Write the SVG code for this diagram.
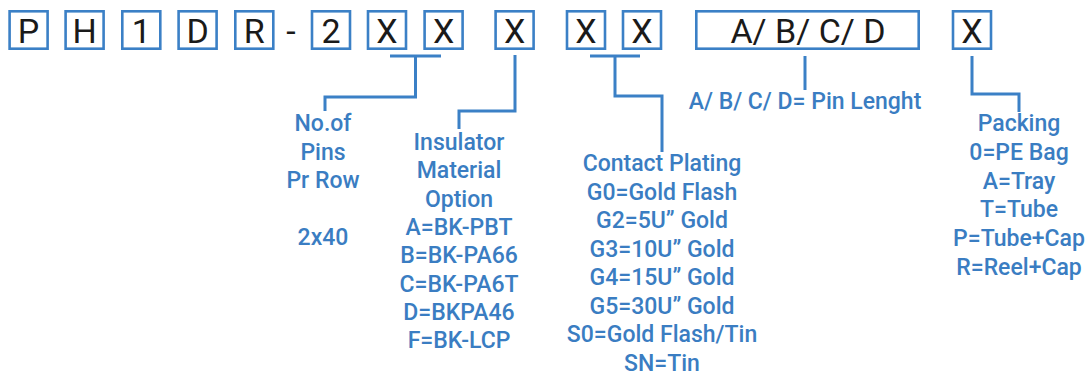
<svg xmlns="http://www.w3.org/2000/svg" width="1086" height="378" viewBox="0 0 1086 378">
<style>
.box{fill:#fff;stroke:#3b80c6;stroke-width:2.6}
.ch{font-family:Roboto,"Liberation Sans",sans-serif;font-size:34px;fill:#1a1a1a;text-anchor:middle}
.lbl{font-family:Roboto,"Liberation Sans",sans-serif;font-size:23px;font-weight:500;fill:#3a7dc2;text-anchor:middle}
.ln{fill:none;stroke:#3b80c6;stroke-width:3}
</style>
<rect width="1086" height="378" fill="#fff"/>
<g id="code">
<g id="b-P"><rect class="box" x="9.6" y="11.3" width="38" height="37.4"/><text class="ch" x="28.6" y="43.3">P</text></g>
<g id="b-H"><rect class="box" x="65.6" y="11.3" width="38" height="37.4"/><text class="ch" x="84.6" y="43.3">H</text></g>
<g id="b-1"><rect class="box" x="122.3" y="11.3" width="38" height="37.4"/><text class="ch" x="141.3" y="43.3">1</text></g>
<g id="b-D"><rect class="box" x="178.6" y="11.3" width="38" height="37.4"/><text class="ch" x="197.6" y="43.3">D</text></g>
<g id="b-R"><rect class="box" x="235.3" y="11.3" width="38" height="37.4"/><text class="ch" x="254.3" y="43.3">R</text></g>
<g id="dash"><text class="ch" x="291" y="43.3">-</text></g>
<g id="b-2"><rect class="box" x="312" y="11.3" width="38" height="37.4"/><text class="ch" x="331" y="43.3">2</text></g>
<g id="b-X1"><rect class="box" x="368" y="11.3" width="38" height="37.4"/><text class="ch" x="387" y="43.3">X</text></g>
<g id="b-X2"><rect class="box" x="424.6" y="11.3" width="38" height="37.4"/><text class="ch" x="443.6" y="43.3">X</text></g>
<g id="b-X3"><rect class="box" x="495.6" y="11.3" width="38" height="37.4"/><text class="ch" x="514.6" y="43.3">X</text></g>
<g id="b-X4"><rect class="box" x="567" y="11.3" width="38" height="37.4"/><text class="ch" x="586" y="43.3">X</text></g>
<g id="b-X5"><rect class="box" x="623" y="11.3" width="38" height="37.4"/><text class="ch" x="642" y="43.3">X</text></g>
<g id="b-ABCD"><rect class="box" x="696.3" y="11.3" width="222.4" height="37.4"/><text class="ch" x="808" y="43.3">A/ B/ C/ D</text></g>
<g id="b-X6"><rect class="box" x="953" y="11.3" width="38" height="37.4"/><text class="ch" x="972" y="43.3">X</text></g>
</g>
<g id="connectors">
<path class="ln" d="M390 56H441M415.5 56V97H325V111"/>
<path class="ln" d="M515 55V111H459V129"/>
<path class="ln" d="M590 56H640M615 56V96H662V152"/>
<path class="ln" d="M805 56V90"/>
<path class="ln" d="M972 56V94H1019V112"/>
</g>
<g id="pins">
<text class="lbl" x="323" y="131">No.of</text>
<text class="lbl" x="323" y="159.5">Pins</text>
<text class="lbl" x="323" y="188">Pr Row</text>
<text class="lbl" x="323" y="244.5">2x40</text>
</g>
<g id="insulator">
<text class="lbl" x="459" y="150">Insulator</text>
<text class="lbl" x="459" y="178.3">Material</text>
<text class="lbl" x="459" y="206.6">Option</text>
<text class="lbl" x="459" y="234.9">A=BK-PBT</text>
<text class="lbl" x="459" y="263.2">B=BK-PA66</text>
<text class="lbl" x="459" y="291.5">C=BK-PA6T</text>
<text class="lbl" x="459" y="319.8">D=BKPA46</text>
<text class="lbl" x="459" y="348">F=BK-LCP</text>
</g>
<g id="plating">
<text class="lbl" x="662" y="171">Contact Plating</text>
<text class="lbl" x="662" y="199.5">G0=Gold Flash</text>
<text class="lbl" x="662" y="228">G2=5U” Gold</text>
<text class="lbl" x="662" y="256.5">G3=10U” Gold</text>
<text class="lbl" x="662" y="285">G4=15U” Gold</text>
<text class="lbl" x="662" y="313.5">G5=30U” Gold</text>
<text class="lbl" x="662" y="342">S0=Gold Flash/Tin</text>
<text class="lbl" x="662" y="370.5">SN=Tin</text>
</g>
<g id="pinlength">
<text class="lbl" x="805" y="109">A/ B/ C/ D= Pin Lenght</text>
</g>
<g id="packing">
<text class="lbl" x="1019" y="131">Packing</text>
<text class="lbl" x="1019" y="159.8">0=PE Bag</text>
<text class="lbl" x="1019" y="188.6">A=Tray</text>
<text class="lbl" x="1019" y="217.4">T=Tube</text>
<text class="lbl" x="1019" y="246.2">P=Tube+Cap</text>
<text class="lbl" x="1019" y="275">R=Reel+Cap</text>
</g>
</svg>
